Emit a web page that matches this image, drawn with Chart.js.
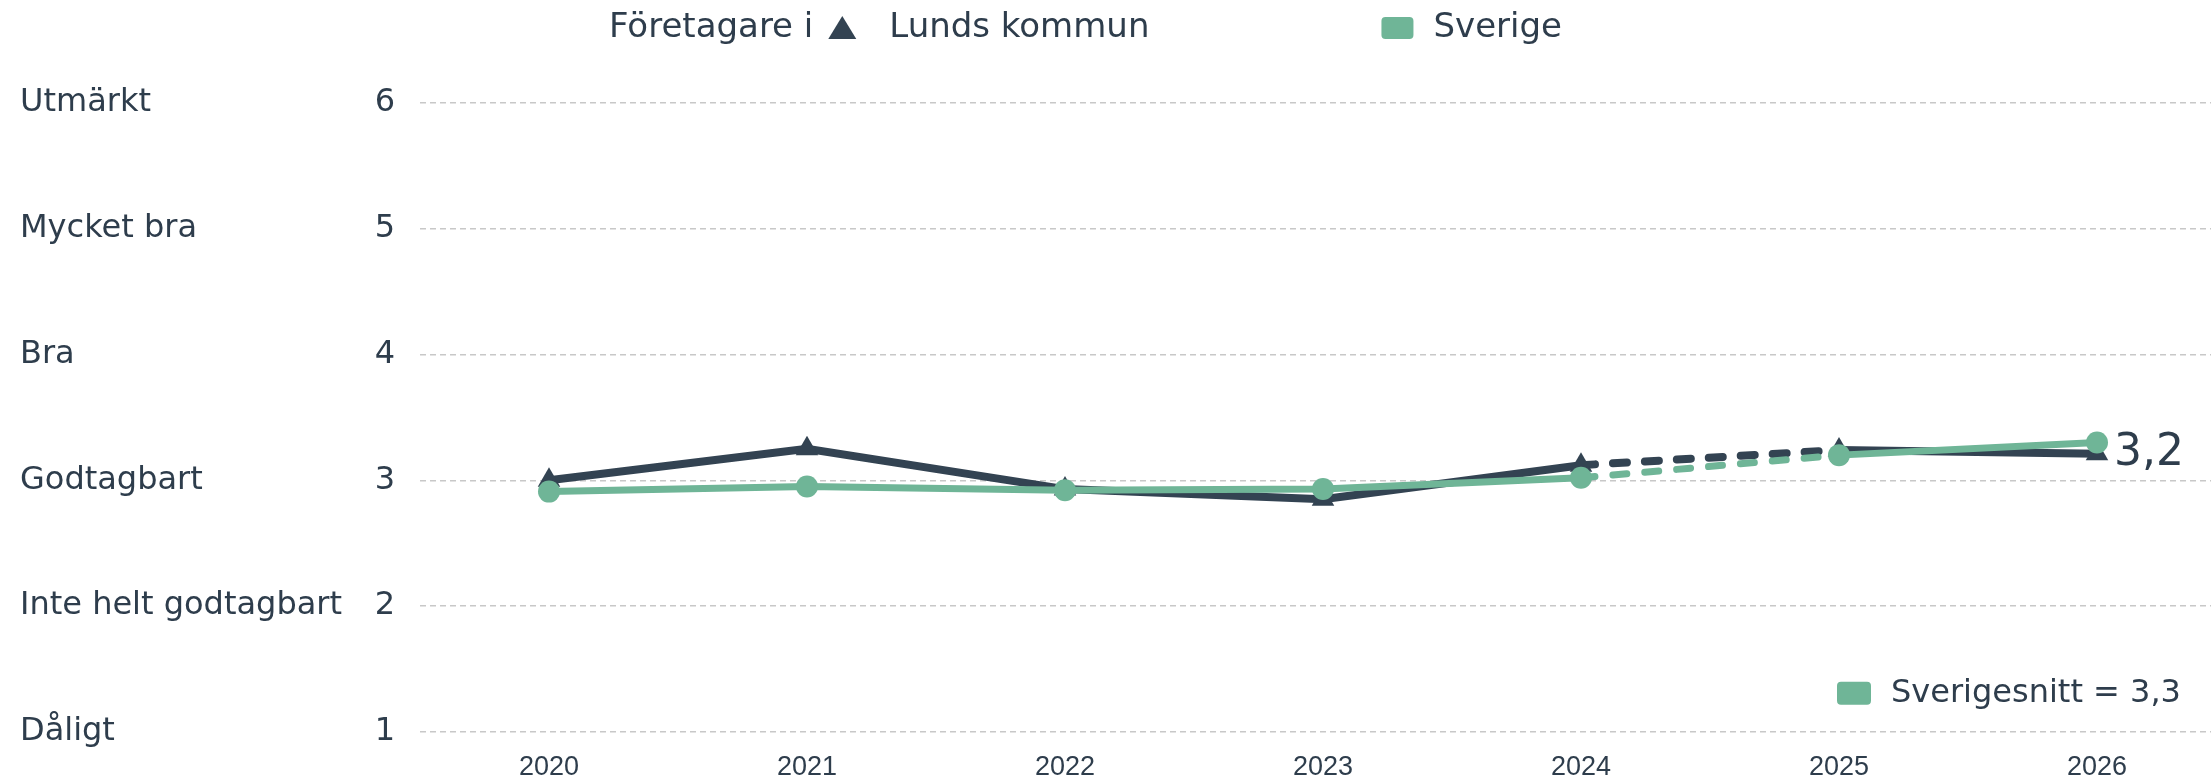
<!DOCTYPE html>
<html>
<head>
<meta charset="utf-8">
<script src="https://cdn.jsdelivr.net/npm/chart.js@4.4.1/dist/chart.umd.min.js"></script>
<style>
  body { margin: 0; background: #fff; overflow: hidden; }
  #wrap { width: 2211px; height: 776px; overflow: hidden; }
</style>
</head>
<body>
<div id="wrap"><canvas id="chart" width="2226" height="776"></canvas></div>
<script>
const years = ["2020", "2021", "2022", "2023", "2024", "2025", "2026"];
const lund = [3.0, 3.25, 2.93, 2.85, 3.12, 3.24, 3.21];
const sverige = [2.91, 2.95, 2.92, 2.93, 3.02, 3.2, 3.3];
const levelValues = [1, 2, 3, 4, 5, 6];
const levelNames = ["Dåligt", "Inte helt godtagbart", "Godtagbart", "Bra", "Mycket bra", "Utmärkt"];
const sverigeSnitt = 3.3;
const dashedFrom = 4; // 2024 -> 2025 is drawn dashed

const DARK = "#334352";
const GREEN = "#6fb597";
const TEXT = "#2e3d4c";
const FONT = "DejaVu Sans";

function fmt(v) {
  return v.toFixed(1).replace(".", ",");
}

function dashSeg(ctx) {
  return ctx.p0DataIndex === dashedFrom ? [14, 18] : undefined;
}

// legend, end label and the average note
const extras = {
  id: "extras",
  afterDraw(chart) {
    const ctx = chart.ctx;
    const xs = chart.scales.x;
    ctx.save();
    ctx.fillStyle = TEXT;
    ctx.textBaseline = "middle";
    ctx.textAlign = "left";

    // top legend
    ctx.font = "34px " + FONT;
    const ly = 28;
    let lx = 609;
    ctx.fillText("Företagare i", lx, ly);
    lx += ctx.measureText("Företagare i").width + 15;
    ctx.fillStyle = DARK;
    ctx.beginPath();
    ctx.moveTo(lx + 14, ly - 12);
    ctx.lineTo(lx + 28, ly + 11);
    ctx.lineTo(lx, ly + 11);
    ctx.closePath();
    ctx.fill();
    lx += 28 + 33;
    ctx.fillStyle = TEXT;
    ctx.fillText("Lunds kommun", lx, ly);
    lx += ctx.measureText("Lunds kommun").width + 232;
    ctx.fillStyle = GREEN;
    ctx.beginPath();
    ctx.roundRect(lx, ly - 11, 32, 22, 4);
    ctx.fill();
    lx += 32 + 20;
    ctx.fillStyle = TEXT;
    ctx.fillText("Sverige", lx, ly);

    // value next to the last Lund point
    const meta = chart.getDatasetMeta(0);
    const last = meta.data[meta.data.length - 1];
    ctx.font = "44px " + FONT;
    ctx.fillText(fmt(lund[lund.length - 1]), last.x + 17, last.y);

    // Sverigesnitt note
    const bx = xs.getPixelForValue(5) - 2;
    const by = chart.chartArea.bottom - 38;
    ctx.fillStyle = GREEN;
    ctx.beginPath();
    ctx.roundRect(bx, by - 12, 34, 23, 4);
    ctx.fill();
    ctx.fillStyle = TEXT;
    ctx.font = "32px " + FONT;
    ctx.fillText("Sverigesnitt = " + fmt(sverigeSnitt), bx + 54, by);
    ctx.restore();
  }
};

new Chart(document.getElementById("chart"), {
  type: "line",
  data: {
    labels: years,
    datasets: [
      {
        label: "Lunds kommun",
        data: lund,
        order: 1,
        borderColor: DARK,
        backgroundColor: DARK,
        borderWidth: 8,
        borderCapStyle: "round",
        pointStyle: "triangle",
        pointRadius: 13,
        pointBorderWidth: 0,
        tension: 0,
        segment: { borderDash: dashSeg }
      },
      {
        label: "Sverige",
        data: sverige,
        order: 0,
        borderColor: GREEN,
        backgroundColor: GREEN,
        borderWidth: 7,
        borderCapStyle: "round",
        pointStyle: "circle",
        pointRadius: 11,
        pointBorderWidth: 0,
        tension: 0,
        segment: { borderDash: dashSeg }
      }
    ]
  },
  options: {
    responsive: false,
    animation: false,
    layout: { autoPadding: false, padding: { top: 103, left: 20, right: 0, bottom: 0 } },
    plugins: {
      legend: { display: false },
      tooltip: { enabled: false }
    },
    scales: {
      x: {
        offset: true,
        grid: { display: false, drawTicks: false },
        border: { display: false },
        ticks: {
          color: TEXT,
          padding: 20,
          font: { family: "Liberation Sans", size: 27 }
        },
        afterFit(s) { s.height = 44; }
      },
      y: {
        position: "left",
        weight: 0,
        min: 1,
        max: 6,
        grid: { color: "#c8c8c8", lineWidth: 1.5, drawTicks: false },
        border: { display: false, dash: [6, 4] },
        ticks: {
          stepSize: 1,
          color: TEXT,
          padding: 25,
          font: { family: FONT, size: 32 }
        },
        afterFit(s) { s.width = 50; }
      },
      names: {
        position: "left",
        weight: 1,
        min: 1,
        max: 6,
        grid: { display: false, drawTicks: false },
        border: { display: false },
        ticks: {
          stepSize: 1,
          crossAlign: "far",
          color: TEXT,
          font: { family: FONT, size: 32 },
          callback: function (v) {
            const i = levelValues.indexOf(v);
            return i >= 0 ? levelNames[i] : "";
          }
        },
        afterFit(s) { s.width = 350; }
      }
    }
  },
  plugins: [extras]
});
</script>
</body>
</html>
